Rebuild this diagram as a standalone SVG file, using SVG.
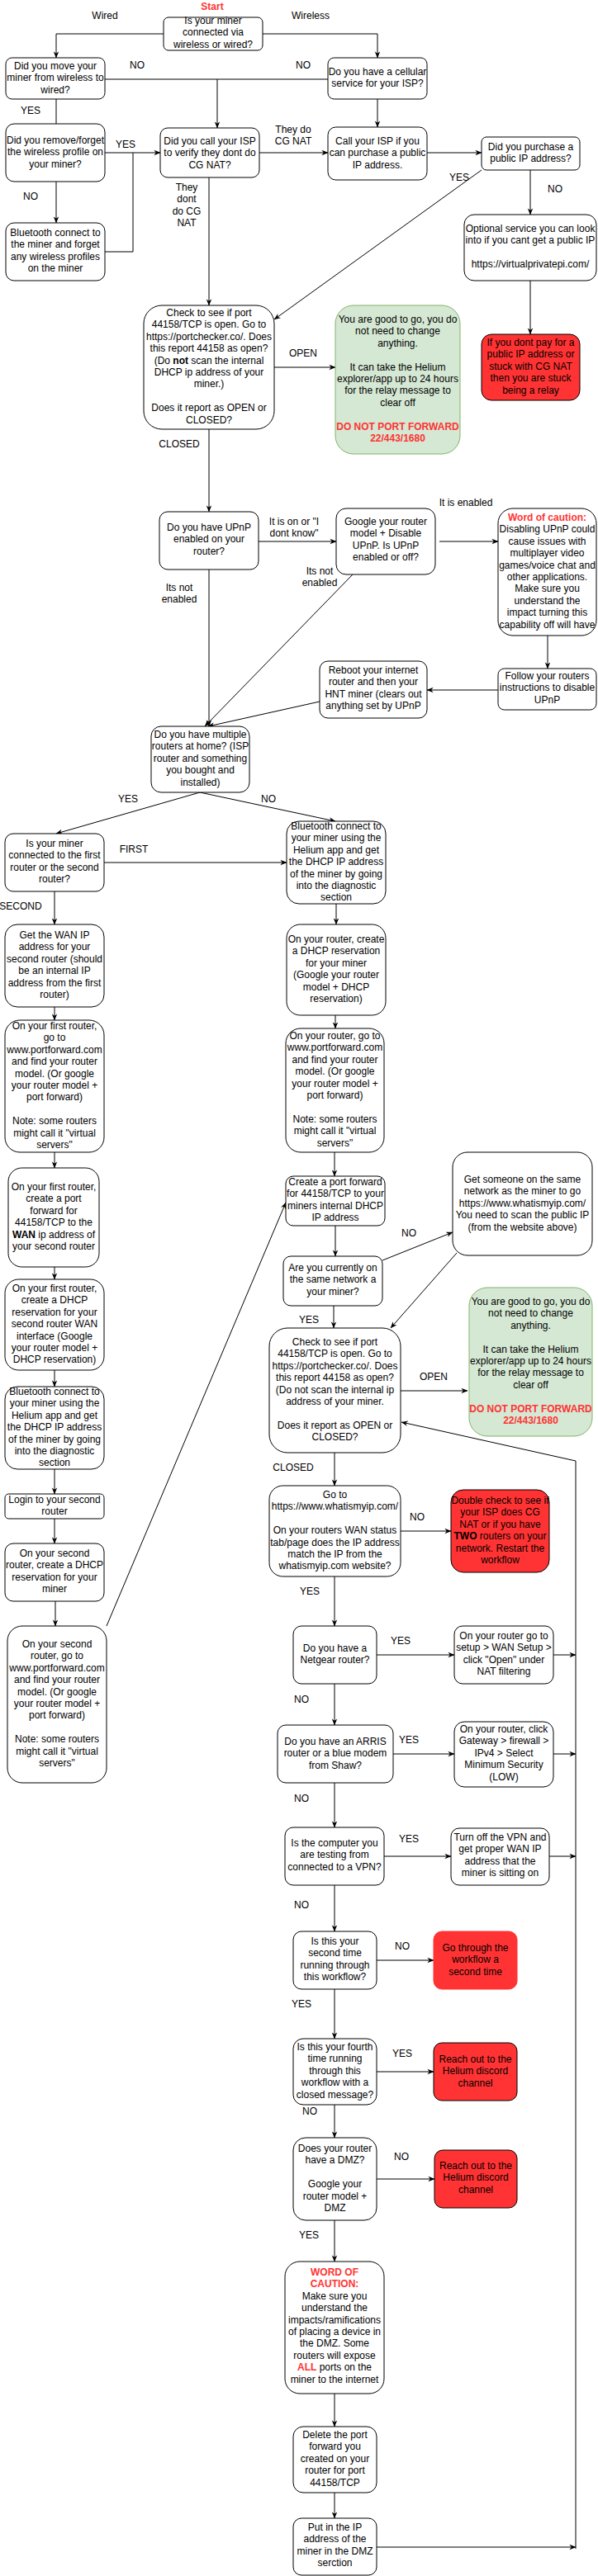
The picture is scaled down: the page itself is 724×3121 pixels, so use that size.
<svg xmlns="http://www.w3.org/2000/svg" width="724" height="3121" viewBox="0 0 724 3121">
<style>
.n{fill:#fff;stroke:#000;stroke-width:1}
.rd{fill:#FF3333;stroke:#000;stroke-width:1}
.rd0{fill:#FF3333;stroke:#FF3333;stroke-width:1}
.gr{fill:#d5e8d4;stroke:#82b366;stroke-width:1}
text{font-family:"Liberation Sans",Arial,Helvetica,sans-serif;font-size:12px;fill:#000;text-anchor:middle}
.rt{fill:#FF3333;font-weight:bold}
.b{font-weight:bold}
.e{fill:none;stroke:#000;stroke-width:1}
.ea{fill:none;stroke:#000;stroke-width:1;marker-end:url(#a)}
</style>
<defs>
<marker id="a" viewBox="0 0 10 10" refX="9.5" refY="5" markerWidth="8" markerHeight="8" orient="auto" markerUnits="userSpaceOnUse">
<path d="M0,1 L10,5 L0,9 L3,5 Z" fill="#000"/>
</marker>
</defs>
<rect width="724" height="3121" fill="#fff"/>

<g id="connectors">
<path class="ea" d="M198,41 H68 V70"/>
<path class="ea" d="M318,41 H457 V70"/>
<path class="e" d="M127,96 H397"/>
<path class="ea" d="M263,96 V155"/>
<path class="e" d="M68,120 V150"/>
<path class="ea" d="M127,185 H194"/>
<path class="e" d="M127,305 H161 V185"/>
<path class="ea" d="M68,220 V270"/>
<path class="ea" d="M457,120 V154"/>
<path class="ea" d="M314,185 H397"/>
<path class="ea" d="M517,185 H583"/>
<path class="ea" d="M583,206 L332,387"/>
<path class="ea" d="M642,206 V260"/>
<path class="ea" d="M642,340 V405"/>
<path class="ea" d="M253,215 V370"/>
<path class="ea" d="M332,445 H406"/>
<path class="ea" d="M253,520 V620"/>
<path class="ea" d="M313,656 H407"/>
<path class="ea" d="M532,656 H603"/>
<path class="ea" d="M663,770 V810"/>
<path class="ea" d="M603,836 H517"/>
<path class="ea" d="M253,690 V880"/>
<path class="ea" d="M427,696 L248,880"/>
<path class="ea" d="M387,850 L252,880"/>
<path class="ea" d="M242,960 L68,1010"/>
<path class="ea" d="M242,960 L406,995"/>
<path class="ea" d="M126,1045 H347"/>
<path class="ea" d="M66,1080 V1120"/>
<path class="ea" d="M407,1095 V1120"/>
<path class="ea" d="M66,1220 V1236"/>
<path class="ea" d="M406,1230 V1246"/>
<path class="ea" d="M66,1396 V1415"/>
<path class="ea" d="M405,1396 V1425"/>
<path class="ea" d="M66,1535 V1550"/>
<path class="ea" d="M66,1660 V1680"/>
<path class="ea" d="M66,1780 V1810"/>
<path class="ea" d="M66,1840 V1870"/>
<path class="ea" d="M67,1940 V1970"/>
<path class="ea" d="M129,1970 L346,1457"/>
<path class="ea" d="M406,1485 V1522"/>
<path class="ea" d="M463,1527 L548,1493"/>
<path class="ea" d="M553,1518 L473,1609"/>
<path class="ea" d="M404,1582 V1609"/>
<path class="ea" d="M485,1685 H566"/>
<path class="ea" d="M405,1760 V1800"/>
<path class="ea" d="M485,1855 H546"/>
<path class="ea" d="M405,1910 V1970"/>
<path class="ea" d="M456,2005 H550"/>
<path class="ea" d="M670,2005 H697"/>
<path class="ea" d="M405,2040 V2090"/>
<path class="ea" d="M476,2125 H550"/>
<path class="ea" d="M670,2125 H697"/>
<path class="ea" d="M405,2160 V2214"/>
<path class="ea" d="M465,2249 H546"/>
<path class="ea" d="M665,2249 H697"/>
<path class="ea" d="M405,2284 V2340"/>
<path class="ea" d="M456,2375 H525"/>
<path class="ea" d="M405,2410 V2470"/>
<path class="ea" d="M456,2510 H525"/>
<path class="ea" d="M405,2550 V2590"/>
<path class="ea" d="M456,2640 H526"/>
<path class="ea" d="M405,2690 V2740"/>
<path class="ea" d="M405,2900 V2940"/>
<path class="ea" d="M405,3020 V3051"/>
<path class="ea" d="M456,3086 H697"/>
<path class="ea" d="M697,3088 V1770 L486,1723"/>
</g>

<g id="labels">
<text x="257" y="12" class="rt">Start</text>
<text x="127" y="23">Wired</text>
<text x="376" y="23">Wireless</text>
<text x="166" y="83">NO</text>
<text x="367" y="83">NO</text>
<text x="37" y="138">YES</text>
<text x="152" y="179">YES</text>
<text x="355" y="161"><tspan x="355">They do</tspan><tspan x="355" dy="14.4">CG NAT</tspan></text>
<text x="556" y="219">YES</text>
<text x="672" y="233">NO</text>
<text x="37" y="242">NO</text>
<text x="226" y="231"><tspan x="226">They</tspan><tspan x="226" dy="14.4">dont</tspan><tspan x="226" dy="14.4">do CG</tspan><tspan x="226" dy="14.4">NAT</tspan></text>
<text x="367" y="432">OPEN</text>
<text x="217" y="542">CLOSED</text>
<text x="356" y="636"><tspan x="356">It is on or "I</tspan><tspan x="356" dy="14.4">dont know"</tspan></text>
<text x="564" y="613">It is enabled</text>
<text x="217" y="716"><tspan x="217">Its not</tspan><tspan x="217" dy="14.4">enabled</tspan></text>
<text x="387" y="696"><tspan x="387">Its not</tspan><tspan x="387" dy="14.4">enabled</tspan></text>
<text x="155" y="972">YES</text>
<text x="325" y="972">NO</text>
<text x="162" y="1033">FIRST</text>
<text x="25" y="1102">SECOND</text>
<text x="495" y="1498">NO</text>
<text x="374" y="1603">YES</text>
<text x="525" y="1672">OPEN</text>
<text x="355" y="1782">CLOSED</text>
<text x="505" y="1842">NO</text>
<text x="375" y="1932">YES</text>
<text x="485" y="1992">YES</text>
<text x="365" y="2063">NO</text>
<text x="495" y="2112">YES</text>
<text x="365" y="2183">NO</text>
<text x="495" y="2232">YES</text>
<text x="365" y="2312">NO</text>
<text x="487" y="2362">NO</text>
<text x="365" y="2432">YES</text>
<text x="487" y="2492">YES</text>
<text x="375" y="2562">NO</text>
<text x="486" y="2617">NO</text>
<text x="374" y="2712">YES</text>
</g>

<g id="n-start"><rect class="n" x="198" y="21" width="120" height="40" rx="6"/>
<text y="29"><tspan x="258">Is your miner</tspan><tspan x="258" dy="14.4">connected via</tspan><tspan x="258" dy="14.4">wireless or wired?</tspan></text></g>

<g id="n-move"><rect class="n" x="7" y="70" width="120" height="50" rx="7.5"/>
<text y="84"><tspan x="67">Did you move your</tspan><tspan x="67" dy="14.4">miner from wireless to</tspan><tspan x="67" dy="14.4">wired?</tspan></text></g>

<g id="n-cell"><rect class="n" x="397" y="70" width="120" height="50" rx="7.5"/>
<text y="91"><tspan x="457">Do you have a cellular</tspan><tspan x="457" dy="14.4">service for your ISP?</tspan></text></g>

<g id="n-forget"><rect class="n" x="7" y="150" width="120" height="70" rx="10"/>
<text y="174"><tspan x="67">Did you remove/forget</tspan><tspan x="67" dy="14.4">the wireless profile on</tspan><tspan x="67" dy="14.4">your miner?</tspan></text></g>

<g id="n-isp"><rect class="n" x="194" y="155" width="120" height="60" rx="9"/>
<text y="175"><tspan x="254">Did you call your ISP</tspan><tspan x="254" dy="14.4">to verify they dont do</tspan><tspan x="254" dy="14.4">CG NAT?</tspan></text></g>

<g id="n-callisp"><rect class="n" x="397" y="154" width="120" height="64" rx="9.6"/>
<text y="175"><tspan x="457">Call your ISP if you</tspan><tspan x="457" dy="14.4">can purchase a public</tspan><tspan x="457" dy="14.4">IP address.</tspan></text></g>

<g id="n-purchase"><rect class="n" x="583" y="166" width="119" height="40" rx="6"/>
<text y="182"><tspan x="642.5">Did you purchase a</tspan><tspan x="642.5" dy="14.4">public IP address?</tspan></text></g>

<g id="n-bt1"><rect class="n" x="7" y="270" width="120" height="70" rx="10"/>
<text y="286"><tspan x="67">Bluetooth connect to</tspan><tspan x="67" dy="14.4">the miner and forget</tspan><tspan x="67" dy="14.4">any wireless profiles</tspan><tspan x="67" dy="14.4">on the miner</tspan></text></g>

<g id="n-optional"><rect class="n" x="562" y="260" width="160" height="80" rx="12"/>
<text y="281"><tspan x="642">Optional service you can look</tspan><tspan x="642" dy="14.4">into if you cant get a public IP</tspan><tspan x="642" dy="28.8">https://virtualprivatepi.com/</tspan></text></g>

<g id="n-relay"><rect class="rd" x="583" y="405" width="119" height="80" rx="12"/>
<text y="419"><tspan x="642.5">If you dont pay for a</tspan><tspan x="642.5" dy="14.4">public IP address or</tspan><tspan x="642.5" dy="14.4">stuck with CG NAT</tspan><tspan x="642.5" dy="14.4">then you are stuck</tspan><tspan x="642.5" dy="14.4">being a relay</tspan></text></g>

<g id="n-check1"><rect class="n" x="174" y="370" width="158" height="150" rx="22"/>
<text y="383"><tspan x="253">Check to see if port</tspan><tspan x="253" dy="14.4">44158/TCP is open.  Go to</tspan><tspan x="253" dy="14.4">https://portchecker.co/.  Does</tspan><tspan x="253" dy="14.4">this report 44158 as open?</tspan><tspan x="253" dy="14.4">(Do <tspan class="b">not</tspan> scan the internal</tspan><tspan x="253" dy="14.4">DHCP ip address of your</tspan><tspan x="253" dy="14.4">miner.)</tspan><tspan x="253" dy="28.8">Does it report as OPEN or</tspan><tspan x="253" dy="14.4">CLOSED?</tspan></text></g>

<g id="n-good1"><rect class="gr" x="406" y="370" width="151" height="180" rx="22"/>
<text y="391"><tspan x="481.5">You are good to go, you do</tspan><tspan x="481.5" dy="14.4">not need to change</tspan><tspan x="481.5" dy="14.4">anything.</tspan><tspan x="481.5" dy="28.8">It can take the Helium</tspan><tspan x="481.5" dy="14.4">explorer/app up to 24 hours</tspan><tspan x="481.5" dy="14.4">for the relay message to</tspan><tspan x="481.5" dy="14.4">clear off</tspan><tspan x="481.5" dy="28.8" class="rt">DO NOT PORT FORWARD</tspan><tspan x="481.5" dy="14.4" class="rt">22/443/1680</tspan></text></g>

<g id="n-upnp"><rect class="n" x="193" y="620" width="120" height="70" rx="10"/>
<text y="643"><tspan x="253">Do you have UPnP</tspan><tspan x="253" dy="14.4">enabled on your</tspan><tspan x="253" dy="14.4">router?</tspan></text></g>

<g id="n-google"><rect class="n" x="407" y="616" width="120" height="80" rx="12"/>
<text y="636"><tspan x="467">Google your router</tspan><tspan x="467" dy="14.4">model + Disable</tspan><tspan x="467" dy="14.4">UPnP.  Is UPnP</tspan><tspan x="467" dy="14.4">enabled or off?</tspan></text></g>

<g id="n-caution1"><rect class="n" x="603" y="616" width="119" height="154" rx="18"/>
<text y="631"><tspan x="662.5" class="rt">Word of caution:</tspan><tspan x="662.5" dy="14.4">Disabling UPnP could</tspan><tspan x="662.5" dy="14.4">cause issues with</tspan><tspan x="662.5" dy="14.4">multiplayer video</tspan><tspan x="662.5" dy="14.4">games/voice chat and</tspan><tspan x="662.5" dy="14.4">other applications.</tspan><tspan x="662.5" dy="14.4">Make sure you</tspan><tspan x="662.5" dy="14.4">understand the</tspan><tspan x="662.5" dy="14.4">impact turning this</tspan><tspan x="662.5" dy="14.4">capability off will have</tspan></text></g>

<g id="n-follow"><rect class="n" x="603" y="810" width="119" height="50" rx="7.5"/>
<text y="823"><tspan x="662.5">Follow your routers</tspan><tspan x="662.5" dy="14.4">instructions to disable</tspan><tspan x="662.5" dy="14.4">UPnP</tspan></text></g>

<g id="n-reboot"><rect class="n" x="387" y="801" width="130" height="69" rx="10"/>
<text y="816"><tspan x="452">Reboot your internet</tspan><tspan x="452" dy="14.4">router and then your</tspan><tspan x="452" dy="14.4">HNT miner (clears out</tspan><tspan x="452" dy="14.4">anything set by UPnP</tspan></text></g>

<g id="n-multi"><rect class="n" x="183" y="880" width="119" height="80" rx="12"/>
<text y="894"><tspan x="242.5">Do you have multiple</tspan><tspan x="242.5" dy="14.4">routers at home? (ISP</tspan><tspan x="242.5" dy="14.4">router and something</tspan><tspan x="242.5" dy="14.4">you bought and</tspan><tspan x="242.5" dy="14.4">installed)</tspan></text></g>

<g id="n-which"><rect class="n" x="6" y="1010" width="120" height="70" rx="10"/>
<text y="1026"><tspan x="66">Is your miner</tspan><tspan x="66" dy="14.4">connected to the first</tspan><tspan x="66" dy="14.4">router or the second</tspan><tspan x="66" dy="14.4">router?</tspan></text></g>

<g id="n-bt2"><rect class="n" x="347" y="995" width="120" height="100" rx="15"/>
<text y="1005"><tspan x="407">Bluetooth connect to</tspan><tspan x="407" dy="14.4">your miner using the</tspan><tspan x="407" dy="14.4">Helium app and get</tspan><tspan x="407" dy="14.4">the DHCP IP address</tspan><tspan x="407" dy="14.4">of the miner by going</tspan><tspan x="407" dy="14.4">into the diagnostic</tspan><tspan x="407" dy="14.4">section</tspan></text></g>

<g id="n-wan"><rect class="n" x="6" y="1120" width="120" height="100" rx="15"/>
<text y="1137"><tspan x="66">Get the WAN IP</tspan><tspan x="66" dy="14.4">address for your</tspan><tspan x="66" dy="14.4">second router (should</tspan><tspan x="66" dy="14.4">be an internal IP</tspan><tspan x="66" dy="14.4">address from the first</tspan><tspan x="66" dy="14.4">router)</tspan></text></g>

<g id="n-pf1"><rect class="n" x="6" y="1236" width="120" height="160" rx="18"/>
<text y="1247"><tspan x="66">On your first router,</tspan><tspan x="66" dy="14.4">go to</tspan><tspan x="66" dy="14.4">www.portforward.com</tspan><tspan x="66" dy="14.4">and find your router</tspan><tspan x="66" dy="14.4">model.  (Or google</tspan><tspan x="66" dy="14.4">your router model +</tspan><tspan x="66" dy="14.4">port forward)</tspan><tspan x="66" dy="28.8">Note: some routers</tspan><tspan x="66" dy="14.4">might call it "virtual</tspan><tspan x="66" dy="14.4">servers"</tspan></text></g>

<g id="n-dhcpr"><rect class="n" x="347" y="1120" width="120" height="110" rx="16.5"/>
<text y="1142"><tspan x="407">On your router, create</tspan><tspan x="407" dy="14.4">a DHCP reservation</tspan><tspan x="407" dy="14.4">for your miner</tspan><tspan x="407" dy="14.4">(Google your router</tspan><tspan x="407" dy="14.4">model + DHCP</tspan><tspan x="407" dy="14.4">reservation)</tspan></text></g>

<g id="n-pfr"><rect class="n" x="346" y="1246" width="119" height="150" rx="18"/>
<text y="1259"><tspan x="405.5">On your router, go to</tspan><tspan x="405.5" dy="14.4">www.portforward.com</tspan><tspan x="405.5" dy="14.4">and find your router</tspan><tspan x="405.5" dy="14.4">model.  (Or google</tspan><tspan x="405.5" dy="14.4">your router model +</tspan><tspan x="405.5" dy="14.4">port forward)</tspan><tspan x="405.5" dy="28.8">Note: some routers</tspan><tspan x="405.5" dy="14.4">might call it "virtual</tspan><tspan x="405.5" dy="14.4">servers"</tspan></text></g>

<g id="n-fwd1"><rect class="n" x="10" y="1415" width="110" height="120" rx="16.5"/>
<text y="1442"><tspan x="65">On your first router,</tspan><tspan x="65" dy="14.4">create a port</tspan><tspan x="65" dy="14.4">forward for</tspan><tspan x="65" dy="14.4">44158/TCP to the</tspan><tspan x="65" dy="14.4"><tspan class="b">WAN</tspan> ip address of</tspan><tspan x="65" dy="14.4">your second router</tspan></text></g>

<g id="n-dhcp2"><rect class="n" x="6" y="1550" width="120" height="110" rx="16.5"/>
<text y="1565"><tspan x="66">On your first router,</tspan><tspan x="66" dy="14.4">create a DHCP</tspan><tspan x="66" dy="14.4">reservation for your</tspan><tspan x="66" dy="14.4">second router WAN</tspan><tspan x="66" dy="14.4">interface (Google</tspan><tspan x="66" dy="14.4">your router model +</tspan><tspan x="66" dy="14.4">DHCP reservation)</tspan></text></g>

<g id="n-bt3"><rect class="n" x="6" y="1680" width="120" height="100" rx="15"/>
<text y="1690"><tspan x="66">Bluetooth connect to</tspan><tspan x="66" dy="14.4">your miner using the</tspan><tspan x="66" dy="14.4">Helium app and get</tspan><tspan x="66" dy="14.4">the DHCP IP address</tspan><tspan x="66" dy="14.4">of the miner by going</tspan><tspan x="66" dy="14.4">into the diagnostic</tspan><tspan x="66" dy="14.4">section</tspan></text></g>

<g id="n-login"><rect class="n" x="6" y="1810" width="120" height="30" rx="4.5"/>
<text y="1821"><tspan x="66">Login to your second</tspan><tspan x="66" dy="14.4">router</tspan></text></g>

<g id="n-dhcp3"><rect class="n" x="6" y="1870" width="120" height="70" rx="10"/>
<text y="1886"><tspan x="66">On your second</tspan><tspan x="66" dy="14.4">router, create a DHCP</tspan><tspan x="66" dy="14.4">reservation for your</tspan><tspan x="66" dy="14.4">miner</tspan></text></g>

<g id="n-pf2"><rect class="n" x="9" y="1970" width="120" height="190" rx="18"/>
<text y="1996"><tspan x="69">On your second</tspan><tspan x="69" dy="14.4">router, go to</tspan><tspan x="69" dy="14.4">www.portforward.com</tspan><tspan x="69" dy="14.4">and find your router</tspan><tspan x="69" dy="14.4">model.  (Or google</tspan><tspan x="69" dy="14.4">your router model +</tspan><tspan x="69" dy="14.4">port forward)</tspan><tspan x="69" dy="28.8">Note: some routers</tspan><tspan x="69" dy="14.4">might call it "virtual</tspan><tspan x="69" dy="14.4">servers"</tspan></text></g>

<g id="n-create"><rect class="n" x="346" y="1425" width="120" height="60" rx="9"/>
<text y="1436"><tspan x="406">Create a port forward</tspan><tspan x="406" dy="14.4">for 44158/TCP to your</tspan><tspan x="406" dy="14.4">miners internal DHCP</tspan><tspan x="406" dy="14.4">IP address</tspan></text></g>

<g id="n-same"><rect class="n" x="343" y="1522" width="120" height="60" rx="9"/>
<text y="1540"><tspan x="403">Are you currently on</tspan><tspan x="403" dy="14.4">the same network a</tspan><tspan x="403" dy="14.4">your miner?</tspan></text></g>

<g id="n-someone"><rect class="n" x="548" y="1396" width="169" height="125" rx="18"/>
<text y="1433"><tspan x="632.5">Get someone on the same</tspan><tspan x="632.5" dy="14.4">network as the miner to go</tspan><tspan x="632.5" dy="14.4">https://www.whatismyip.com/</tspan><tspan x="632.5" dy="14.4">You need to scan the public IP</tspan><tspan x="632.5" dy="14.4">(from the website above)</tspan></text></g>

<g id="n-check2"><rect class="n" x="326" y="1609" width="159" height="151" rx="22"/>
<text y="1630"><tspan x="405.5">Check to see if port</tspan><tspan x="405.5" dy="14.4">44158/TCP is open.  Go to</tspan><tspan x="405.5" dy="14.4">https://portchecker.co/.  Does</tspan><tspan x="405.5" dy="14.4">this report 44158 as open?</tspan><tspan x="405.5" dy="14.4">(Do not scan the internal ip</tspan><tspan x="405.5" dy="14.4">address of your miner.</tspan><tspan x="405.5" dy="28.8">Does it report as OPEN or</tspan><tspan x="405.5" dy="14.4">CLOSED?</tspan></text></g>

<g id="n-good2"><rect class="gr" x="568" y="1560" width="149" height="180" rx="22"/>
<text y="1581"><tspan x="642.5">You are good to go, you do</tspan><tspan x="642.5" dy="14.4">not need to change</tspan><tspan x="642.5" dy="14.4">anything.</tspan><tspan x="642.5" dy="28.8">It can take the Helium</tspan><tspan x="642.5" dy="14.4">explorer/app up to 24 hours</tspan><tspan x="642.5" dy="14.4">for the relay message to</tspan><tspan x="642.5" dy="14.4">clear off</tspan><tspan x="642.5" dy="28.8" class="rt">DO NOT PORT FORWARD</tspan><tspan x="642.5" dy="14.4" class="rt">22/443/1680</tspan></text></g>

<g id="n-whatis"><rect class="n" x="326" y="1800" width="159" height="110" rx="16.5"/>
<text y="1815"><tspan x="405.5">Go to</tspan><tspan x="405.5" dy="14.4">https://www.whatismyip.com/</tspan><tspan x="405.5" dy="28.8">On your routers WAN status</tspan><tspan x="405.5" dy="14.4">tab/page does the IP address</tspan><tspan x="405.5" dy="14.4">match the IP from the</tspan><tspan x="405.5" dy="14.4">whatismyip.com website?</tspan></text></g>

<g id="n-double"><rect class="rd" x="546" y="1805" width="119" height="100" rx="15"/>
<text y="1822"><tspan x="605.5">Double check to see if</tspan><tspan x="605.5" dy="14.4">your ISP does CG</tspan><tspan x="605.5" dy="14.4">NAT or if you have</tspan><tspan x="605.5" dy="14.4"><tspan class="b">TWO</tspan> routers on your</tspan><tspan x="605.5" dy="14.4">network.  Restart the</tspan><tspan x="605.5" dy="14.4">workflow</tspan></text></g>

<g id="n-netgear"><rect class="n" x="355" y="1970" width="101" height="70" rx="10"/>
<text y="2001"><tspan x="405.5">Do you have a</tspan><tspan x="405.5" dy="14.4">Netgear router?</tspan></text></g>

<g id="n-ngset"><rect class="n" x="550" y="1970" width="120" height="70" rx="10"/>
<text y="1986"><tspan x="610">On your router go to</tspan><tspan x="610" dy="14.4">setup &gt; WAN Setup &gt;</tspan><tspan x="610" dy="14.4">click "Open" under</tspan><tspan x="610" dy="14.4">NAT filtering</tspan></text></g>

<g id="n-arris"><rect class="n" x="336" y="2090" width="140" height="70" rx="10"/>
<text y="2114"><tspan x="406">Do you have an ARRIS</tspan><tspan x="406" dy="14.4">router or a blue modem</tspan><tspan x="406" dy="14.4">from Shaw?</tspan></text></g>

<g id="n-arrisset"><rect class="n" x="550" y="2086" width="120" height="79" rx="12"/>
<text y="2099"><tspan x="610">On your router, click</tspan><tspan x="610" dy="14.4">Gateway &gt; firewall &gt;</tspan><tspan x="610" dy="14.4">IPv4 &gt; Select</tspan><tspan x="610" dy="14.4">Minimum Security</tspan><tspan x="610" dy="14.4">(LOW)</tspan></text></g>

<g id="n-vpn"><rect class="n" x="345" y="2214" width="120" height="70" rx="10"/>
<text y="2237"><tspan x="405">Is the computer you</tspan><tspan x="405" dy="14.4">are testing from</tspan><tspan x="405" dy="14.4">connected to a VPN?</tspan></text></g>

<g id="n-vpnoff"><rect class="n" x="546" y="2215" width="119" height="69" rx="10"/>
<text y="2230"><tspan x="605.5">Turn off the VPN and</tspan><tspan x="605.5" dy="14.4">get proper WAN IP</tspan><tspan x="605.5" dy="14.4">address that the</tspan><tspan x="605.5" dy="14.4">miner is sitting on</tspan></text></g>

<g id="n-second"><rect class="n" x="355" y="2340" width="101" height="70" rx="10"/>
<text y="2356"><tspan x="405.5">Is this your</tspan><tspan x="405.5" dy="14.4">second time</tspan><tspan x="405.5" dy="14.4">running through</tspan><tspan x="405.5" dy="14.4">this workflow?</tspan></text></g>

<g id="n-again"><rect class="rd0" x="525" y="2340" width="101" height="70" rx="10"/>
<text y="2364"><tspan x="575.5">Go through the</tspan><tspan x="575.5" dy="14.4">workflow a</tspan><tspan x="575.5" dy="14.4">second time</tspan></text></g>

<g id="n-fourth"><rect class="n" x="355" y="2470" width="101" height="80" rx="12"/>
<text y="2484"><tspan x="405.5">Is this your fourth</tspan><tspan x="405.5" dy="14.4">time running</tspan><tspan x="405.5" dy="14.4">through this</tspan><tspan x="405.5" dy="14.4">workflow with a</tspan><tspan x="405.5" dy="14.4">closed message?</tspan></text></g>

<g id="n-discord1"><rect class="rd" x="525" y="2475" width="101" height="70" rx="10"/>
<text y="2499"><tspan x="575.5">Reach out to the</tspan><tspan x="575.5" dy="14.4">Helium discord</tspan><tspan x="575.5" dy="14.4">channel</tspan></text></g>

<g id="n-dmz"><rect class="n" x="355" y="2590" width="101" height="100" rx="15"/>
<text y="2607"><tspan x="405.5">Does your router</tspan><tspan x="405.5" dy="14.4">have a DMZ?</tspan><tspan x="405.5" dy="28.8">Google your</tspan><tspan x="405.5" dy="14.4">router model +</tspan><tspan x="405.5" dy="14.4">DMZ</tspan></text></g>

<g id="n-discord2"><rect class="rd" x="526" y="2605" width="100" height="70" rx="10"/>
<text y="2628"><tspan x="576">Reach out to the</tspan><tspan x="576" dy="14.4">Helium discord</tspan><tspan x="576" dy="14.4">channel</tspan></text></g>

<g id="n-caution2"><rect class="n" x="345" y="2740" width="120" height="160" rx="18"/>
<text y="2757"><tspan x="405" class="rt">WORD OF</tspan><tspan x="405" dy="14.4" class="rt">CAUTION:</tspan><tspan x="405" dy="14.4">Make sure you</tspan><tspan x="405" dy="14.4">understand the</tspan><tspan x="405" dy="14.4">impacts/ramifications</tspan><tspan x="405" dy="14.4">of placing a device in</tspan><tspan x="405" dy="14.4">the DMZ.  Some</tspan><tspan x="405" dy="14.4">routers will expose</tspan><tspan x="405" dy="14.4"><tspan class="rt">ALL</tspan> ports on the</tspan><tspan x="405" dy="14.4">miner to the internet</tspan></text></g>

<g id="n-delete"><rect class="n" x="355" y="2940" width="101" height="80" rx="12"/>
<text y="2954"><tspan x="405.5">Delete the port</tspan><tspan x="405.5" dy="14.4">forward you</tspan><tspan x="405.5" dy="14.4">created on your</tspan><tspan x="405.5" dy="14.4">router for port</tspan><tspan x="405.5" dy="14.4">44158/TCP</tspan></text></g>

<g id="n-putip"><rect class="n" x="355" y="3051" width="101" height="69" rx="10"/>
<text y="3066"><tspan x="405.5">Put in the IP</tspan><tspan x="405.5" dy="14.4">address of the</tspan><tspan x="405.5" dy="14.4">miner in the DMZ</tspan><tspan x="405.5" dy="14.4">serction</tspan></text></g>
</svg>
